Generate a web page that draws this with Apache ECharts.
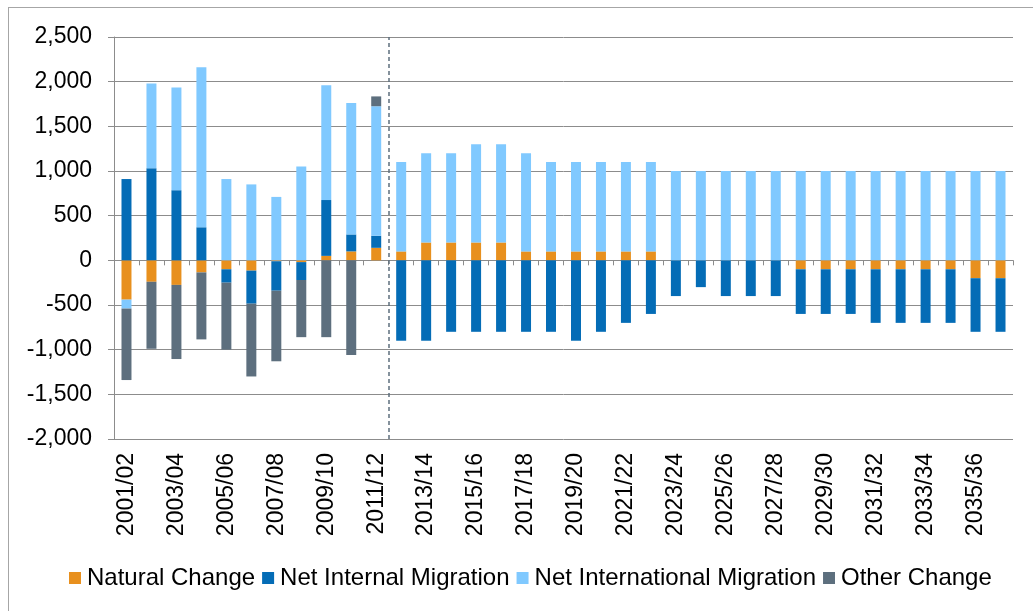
<!DOCTYPE html>
<html>
<head>
<meta charset="utf-8">
<script src="https://cdn.jsdelivr.net/npm/echarts@6/dist/echarts.min.js"></script>
<style>
    html, body { margin: 0; padding: 0; background: #fff; overflow: hidden; }
    #chart { width: 1033px; height: 611px; }
    .frame {
        position: absolute; left: 8px; top: 7px; width: 1100px; height: 700px;
        border: 1px solid #a6a6a6; pointer-events: none;
    }
</style>
</head>
<body>
<div id="chart"></div>
<div class="frame"></div>
<script>
// years 2001/02 .. 2036/37
const years = [
    '2001/02', '2002/03', '2003/04', '2004/05', '2005/06', '2006/07', '2007/08', '2008/09',
    '2009/10', '2010/11', '2011/12', '2012/13', '2013/14', '2014/15', '2015/16', '2016/17',
    '2017/18', '2018/19', '2019/20', '2020/21', '2021/22', '2022/23', '2023/24', '2024/25',
    '2025/26', '2026/27', '2027/28', '2028/29', '2029/30', '2030/31', '2031/32', '2032/33',
    '2033/34', '2034/35', '2035/36', '2036/37'
];

const naturalChange = [
    -440, -240, -275, -135, -100, -115, -10, -20, 50, 100, 140,
    100, 200, 200, 200, 200, 100, 100, 100, 100, 100, 100,
    0, 0, 0, 0, 0,
    -100, -100, -100, -100, -100, -100, -100, -200, -200
];

const netInternal = [
    910, 1030, 785, 370, -150, -370, -330, -200, 625, 190, 135,
    -900, -900, -800, -800, -800, -800, -800, -900, -800, -700, -600,
    -400, -300, -400, -400, -400,
    -500, -500, -500, -600, -600, -600, -600, -600, -600
];

const netInternational = [
    -100, 950, 1150, 1790, 910, 850, 710, 1050, 1285, 1470, 1450,
    1000, 1000, 1000, 1100, 1100, 1100, 1000, 1000, 1000, 1000, 1000,
    1000, 1000, 1000, 1000, 1000, 1000, 1000, 1000, 1000, 1000, 1000,
    1000, 1000, 1000
];

const otherChange = [
    -800, -750, -830, -750, -750, -815, -790, -640, -860, -1060, 110,
    0, 0, 0, 0, 0, 0, 0, 0, 0, 0, 0,
    0, 0, 0, 0, 0, 0, 0, 0, 0, 0, 0,
    0, 0, 0
];

// projection starts after this many years
const projectionStart = 11;

const seriesNames = ['Natural Change', 'Net Internal Migration', 'Net International Migration', 'Other Change'];
const colors = ['#e8901e', '#046cb6', '#80c9ff', '#5d6f7e'];

const fontFamily = '"Liberation Sans", Arial, sans-serif';
const gray = '#8c8c8c';

const myChart = echarts.init(document.getElementById('chart'));

function barSeries(name, data) {
    return {
        name: name,
        type: 'bar',
        stack: 'total',
        xAxisIndex: 0,
        barWidth: '40%',
        data: data
    };
}

const option = {
    animation: false,
    color: colors,
    textStyle: { fontFamily: fontFamily },
    grid: {
        left: 114,
        right: 20,
        top: 37,
        bottom: 172
    },
    legend: {
        bottom: 16,
        left: 64,
        itemWidth: 12,
        itemHeight: 12,
        itemGap: 7,
        icon: 'rect',
        data: seriesNames,
        textStyle: { fontSize: 24, color: '#000', fontFamily: fontFamily, padding: [0, 0, 0, 1] }
    },
    xAxis: [
        {
            // labels along the bottom
            type: 'category',
            data: years,
            position: 'bottom',
            axisLine: { show: false, onZero: false },
            axisTick: { show: false },
            axisLabel: {
                interval: 1,
                rotate: 90,
                margin: 14,
                fontSize: 23,
                color: '#000',
                fontFamily: fontFamily
            }
        },
        {
            // axis line + ticks sitting at zero
            type: 'category',
            data: years,
            position: 'bottom',
            axisLine: { show: true, onZero: true, lineStyle: { color: gray, width: 1 } },
            axisTick: { show: true, interval: 0, length: 5, lineStyle: { color: gray } },
            axisLabel: { show: false }
        },
        {
            // hidden helper axis for the projection divider
            type: 'value',
            min: 0,
            max: years.length,
            show: false
        }
    ],
    yAxis: {
        type: 'value',
        min: -2000,
        max: 2500,
        interval: 500,
        axisLine: { show: true, lineStyle: { color: gray } },
        axisTick: { show: true, length: 6, lineStyle: { color: gray } },
        splitLine: { lineStyle: { color: gray, width: 1 } },
        axisLabel: {
            fontSize: 23,
            color: '#000',
            margin: 22,
            fontFamily: fontFamily,
            formatter: function (v) { return v.toLocaleString('en-US'); }
        }
    },
    series: [
        barSeries(seriesNames[0], naturalChange),
        barSeries(seriesNames[1], netInternal),
        barSeries(seriesNames[2], netInternational),
        barSeries(seriesNames[3], otherChange),
        {
            name: 'divider',
            type: 'line',
            xAxisIndex: 2,
            data: [],
            silent: true,
            markLine: {
                symbol: 'none',
                label: { show: false },
                lineStyle: { color: '#5d6f7e', type: [4, 3], width: 1.5 },
                data: [{ xAxis: projectionStart }]
            }
        }
    ]
};

myChart.setOption(option);
</script>
</body>
</html>
